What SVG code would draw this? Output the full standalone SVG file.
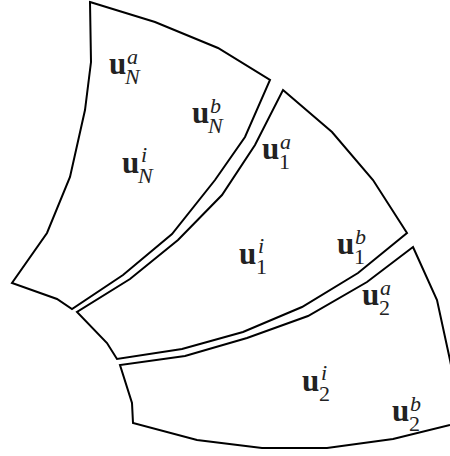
<svg xmlns="http://www.w3.org/2000/svg" width="450" height="456" viewBox="0 0 450 456">
<style>
.r{fill:none;stroke:#000;stroke-width:2;stroke-linejoin:miter}
.u{font-family:'Liberation Serif','Times New Roman',serif;font-weight:bold;font-size:31px;fill:#222}
.s{font-family:'Liberation Serif','Times New Roman',serif;font-weight:normal;font-style:italic;font-size:22px}
.n{font-family:'Liberation Serif','Times New Roman',serif;font-weight:normal;font-style:normal;font-size:22px}
</style>
<rect width="450" height="456" fill="#fff"/>
<g id="regionN">
<polygon class="r" points="90,2 155,22 218,48 270,80 245,137 215,180 172,234 123,275 72,309 57,299 12,283 47,233 70,177 85,110 91,62"/>
<text class="u" x="109" y="74">u<tspan class="s" x="127" y="64">a</tspan><tspan class="s" x="125" y="84">N</tspan></text>
<text class="u" x="192" y="123">u<tspan class="s" x="210" y="113">b</tspan><tspan class="s" x="208" y="133">N</tspan></text>
<text class="u" x="122" y="173">u<tspan class="s" x="141" y="162">i</tspan><tspan class="s" x="138" y="183">N</tspan></text>
</g>
<g id="region1">
<polygon class="r" points="283,90 332,132 373,180 407,233 358,273 302,307 243,332 182,349 117,359 107,343 77,312 130,279 178,240 222,195 255,145"/>
<text class="u" x="262" y="159">u<tspan class="s" x="280" y="149">a</tspan><tspan class="n" x="279" y="169">1</tspan></text>
<text class="u" x="239" y="264">u<tspan class="s" x="258" y="253">i</tspan><tspan class="n" x="256" y="274">1</tspan></text>
<text class="u" x="337" y="254">u<tspan class="s" x="355" y="244">b</tspan><tspan class="n" x="354" y="264">1</tspan></text>
</g>
<g id="region2">
<polygon class="r" points="413,247 437,300 450,360 458,400 462,421 450,425 393,439 327,448 262,448 197,440 133,423 132,403 120,365 185,356 247,338 308,316 367,282"/>
<text class="u" x="362" y="305">u<tspan class="s" x="380" y="295">a</tspan><tspan class="n" x="379" y="315">2</tspan></text>
<text class="u" x="302" y="391">u<tspan class="s" x="321" y="380">i</tspan><tspan class="n" x="319" y="401">2</tspan></text>
<text class="u" x="392" y="421">u<tspan class="s" x="410" y="411">b</tspan><tspan class="n" x="409" y="431">2</tspan></text>
</g>
<g id="connectors"/>
</svg>
